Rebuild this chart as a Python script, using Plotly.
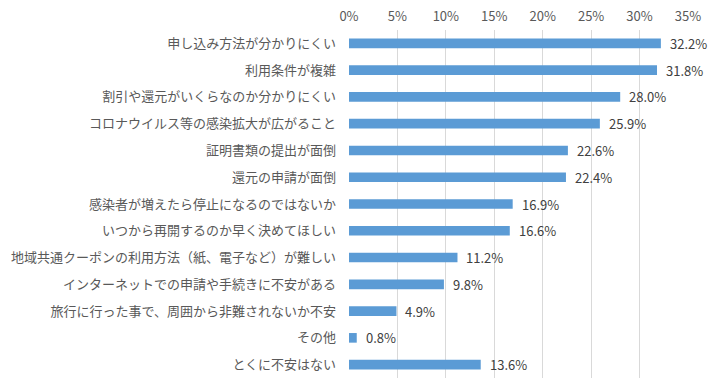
import plotly.graph_objects as go

categories = [
    "申し込み方法が分かりにくい",
    "利用条件が複雑",
    "割引や還元がいくらなのか分かりにくい",
    "コロナウイルス等の感染拡大が広がること",
    "証明書類の提出が面倒",
    "還元の申請が面倒",
    "感染者が増えたら停止になるのではないか",
    "いつから再開するのか早く決めてほしい",
    "地域共通クーポンの利用方法（紙、電子など）が難しい",
    "インターネットでの申請や手続きに不安がある",
    "旅行に行った事で、周囲から非難されないか不安",
    "その他",
    "とくに不安はない",
]
values = [32.2, 31.8, 28.0, 25.9, 22.6, 22.4, 16.9, 16.6, 11.2, 9.8, 4.9, 0.8, 13.6]
tick_vals = [0, 5, 10, 15, 20, 25, 30, 35]
tick_text = ["0%", "5%", "10%", "15%", "20%", "25%", "30%", "35%"]

font_family = "Noto Sans CJK JP"

fig = go.Figure()
fig.add_trace(go.Bar(
    y=categories,
    x=values,
    orientation="h",
    marker=dict(color="#5B9BD5", line=dict(width=0)),
    width=0.36,
    hoverinfo="skip",
))

for c, v in zip(categories, values):
    fig.add_annotation(
        x=v, y=c, xref="x", yref="y",
        text=f"{v:.1f}%", showarrow=False,
        xanchor="left", yanchor="middle", xshift=7,
        font=dict(family=font_family, size=13, color="#404040"),
    )

fig.update_layout(
    width=710, height=386,
    margin=dict(l=349, r=22, t=30, b=8),
    paper_bgcolor="white", plot_bgcolor="white",
    showlegend=False,
    font=dict(family=font_family, size=13, color="#595959"),
    xaxis=dict(
        range=[0, 35], side="top",
        tickvals=tick_vals, ticktext=tick_text,
        showgrid=True, gridcolor="#D9D9D9", gridwidth=1,
        zeroline=False, showline=False, ticks="",
        automargin=False, ticklabelstandoff=5,
        tickfont=dict(family=font_family, size=13, color="#595959"),
    ),
    yaxis=dict(
        categoryorder="array", categoryarray=categories[::-1],
        range=[-0.5, len(categories) - 0.5],
        showgrid=False, zeroline=False, ticks="",
        showline=False, automargin=False,
        ticklabelstandoff=12,
        tickfont=dict(family=font_family, size=13, color="#595959"),
    ),
)

fig.write_html(
    "out.html",
    config={"displayModeBar": False},
    post_script="document.body.style.margin='0';document.body.style.overflow='hidden';",
)
